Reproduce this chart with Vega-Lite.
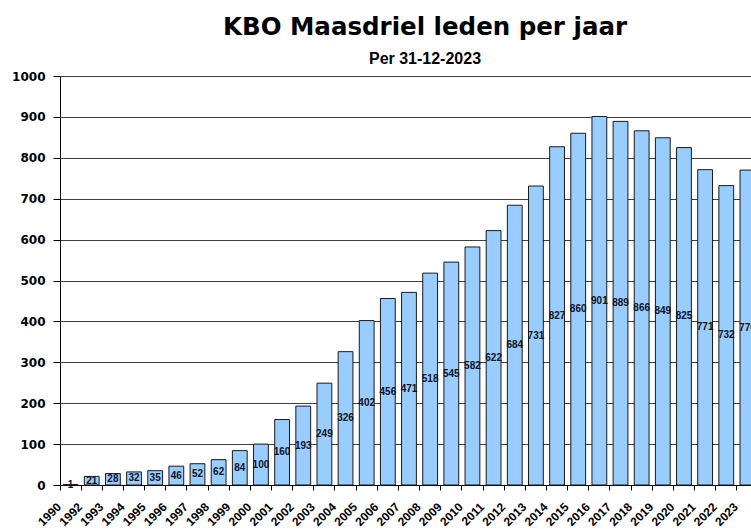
{
  "$schema": "https://vega.github.io/schema/vega-lite/v6.json",
  "autosize": {"type": "none"},
  "width": 698,
  "height": 409,
  "padding": {"left": 60, "top": 76, "right": 0, "bottom": 44},
  "background": "white",
  "title": {
    "text": "KBO Maasdriel leden per jaar",
    "subtitle": "Per 31-12-2023",
    "anchor": "middle",
    "frame": "group",
    "dx": 16,
    "offset": 2,
    "font": "DejaVu Sans",
    "fontSize": 24.5,
    "fontWeight": "bold",
    "color": "#000000",
    "subtitleFont": "Liberation Sans",
    "subtitleFontSize": 16,
    "subtitleFontWeight": "bold",
    "subtitleColor": "#000000",
    "subtitlePadding": 11
  },
  "config": {"view": {"stroke": null}},
  "data": {
    "values": [
      {"jaar": "1990", "leden": 1},
      {"jaar": "1992", "leden": 21},
      {"jaar": "1993", "leden": 28},
      {"jaar": "1994", "leden": 32},
      {"jaar": "1995", "leden": 35},
      {"jaar": "1996", "leden": 46},
      {"jaar": "1997", "leden": 52},
      {"jaar": "1998", "leden": 62},
      {"jaar": "1999", "leden": 84},
      {"jaar": "2000", "leden": 100},
      {"jaar": "2001", "leden": 160},
      {"jaar": "2002", "leden": 193},
      {"jaar": "2003", "leden": 249},
      {"jaar": "2004", "leden": 326},
      {"jaar": "2005", "leden": 402},
      {"jaar": "2006", "leden": 456},
      {"jaar": "2007", "leden": 471},
      {"jaar": "2008", "leden": 518},
      {"jaar": "2009", "leden": 545},
      {"jaar": "2010", "leden": 582},
      {"jaar": "2011", "leden": 622},
      {"jaar": "2012", "leden": 684},
      {"jaar": "2013", "leden": 731},
      {"jaar": "2014", "leden": 827},
      {"jaar": "2015", "leden": 860},
      {"jaar": "2016", "leden": 901},
      {"jaar": "2017", "leden": 889},
      {"jaar": "2018", "leden": 866},
      {"jaar": "2019", "leden": 849},
      {"jaar": "2020", "leden": 825},
      {"jaar": "2021", "leden": 771},
      {"jaar": "2022", "leden": 732},
      {"jaar": "2023", "leden": 770}
    ]
  },
  "resolve": {"scale": {"y": "independent"}, "axis": {"y": "independent"}},
  "layer": [
    {
      "mark": {"type": "bar", "fill": "#99CCFF", "stroke": "#1a1a1a", "strokeWidth": 1, "width": {"band": 0.7}},
      "encoding": {
        "x": {
          "field": "jaar",
          "type": "ordinal",
          "scale": {"paddingInner": 0, "paddingOuter": 0},
          "axis": {
            "title": null,
            "bandPosition": 0,
            "labelAngle": -45,
            "labelAlign": "right",
            "labelBaseline": "top",
            "labelOffset": -15,
            "labelPadding": 11,
            "labelFont": "Liberation Sans",
            "labelFontSize": 12,
            "labelFontWeight": "bold",
            "labelColor": "#000000",
            "labelOverlap": false,
            "labelBound": false,
            "tickSize": 5,
            "tickColor": "#000000",
            "domainColor": "#000000",
            "grid": false
          }
        },
        "y": {
          "field": "leden",
          "type": "quantitative",
          "scale": {"domain": [0, 1000]},
          "axis": {
            "title": null,
            "format": "d",
            "values": [0, 100, 200, 300, 400, 500, 600, 700, 800, 900, 1000],
            "grid": true,
            "gridColor": "#404040",
            "gridWidth": 1,
            "gridOpacity": 1,
            "tickSize": 7,
            "tickColor": "#000000",
            "domainColor": "#000000",
            "labelFont": "DejaVu Sans",
            "labelFontSize": 12,
            "labelFontWeight": "bold",
            "labelPadding": 8,
            "labelColor": "#000000"
          }
        }
      }
    },
    {
      "mark": {"type": "text", "font": "Liberation Sans", "fontWeight": "bold", "fontSize": 10, "color": "#111122", "baseline": "middle", "align": "center"},
      "encoding": {
        "x": {"field": "jaar", "type": "ordinal"},
        "y": {"field": "leden", "type": "quantitative", "scale": {"domain": [0, 2000]}, "axis": null},
        "text": {"field": "leden", "type": "quantitative"}
      }
    }
  ]
}
